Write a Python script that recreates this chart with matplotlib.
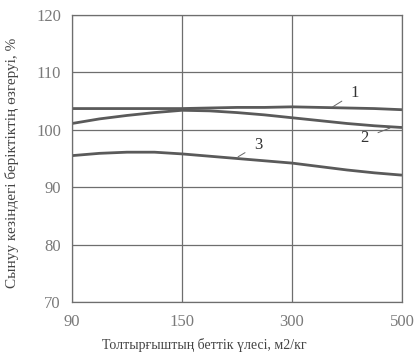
import matplotlib
matplotlib.use("Agg")
import matplotlib.pyplot as plt

# Data (x positions are evenly spaced categories)
x_labels = ["90", "150", "300", "500"]
pos = [0, 0.25, 0.5, 0.75, 1, 1.25, 1.5, 1.75, 2, 2.25, 2.5, 2.75, 3]
curve1 = [103.7, 103.7, 103.7, 103.7, 103.7, 103.8, 103.9, 103.9, 104.0, 103.9, 103.8, 103.7, 103.5]
curve2 = [101.1, 101.9, 102.5, 103.0, 103.4, 103.3, 103.0, 102.6, 102.1, 101.6, 101.1, 100.7, 100.4]
curve3 = [95.5, 95.9, 96.1, 96.1, 95.8, 95.4, 95.0, 94.6, 94.2, 93.6, 93.0, 92.5, 92.1]
y_ticks = [70, 80, 90, 100, 110, 120]

plt.rcParams["font.family"] = ["Liberation Serif", "DejaVu Serif"]

fig = plt.figure(figsize=(4.16, 3.52), dpi=100)
ax = fig.add_axes([72 / 416, 1 - 302 / 352, 330 / 416, 287 / 352])

line_color = "#5a5a5a"
for ys in (curve1, curve2, curve3):
    ax.plot(pos, ys, color=line_color, linewidth=2.0, solid_capstyle="butt")

ax.set_xlim(0, 3)
ax.set_ylim(70, 120)
ax.set_xticks(range(len(x_labels)))
ax.set_xticklabels(x_labels)
ax.set_yticks(y_ticks)
ax.grid(True, color="#6e6e6e", linewidth=0.9)
ax.set_axisbelow(True)
for s in ax.spines.values():
    s.set_color("#6e6e6e")
    s.set_linewidth(0.9)
ax.tick_params(length=0, colors="#7a7a7a", labelsize=12)
ax.tick_params(axis="y", pad=8)
ax.tick_params(axis="x", pad=9)

# curve labels with leader lines
leader = dict(arrowstyle="-", color="#666666", lw=0.7, shrinkA=5, shrinkB=0)
ax.annotate("1", xy=(2.37, 104.0), xytext=(2.57, 106.4), fontsize=12, color="#333333",
            ha="center", va="center", arrowprops=leader)
ax.annotate("2", xy=(2.89, 100.3), xytext=(2.66, 98.6), fontsize=12, color="#333333",
            ha="center", va="center", arrowprops=leader)
ax.annotate("3", xy=(1.51, 95.3), xytext=(1.69, 97.35), fontsize=12, color="#333333",
            ha="center", va="center", arrowprops=leader)

fig.text(204 / 416, 1 - 345 / 352, "Толтырғыштың беттік үлесі, м2/кг", ha="center", va="center",
         fontsize=10, color="#444444")
fig.text(12 / 416, 1 - 163 / 352, "Сынуу кезіндегі беріктіктің өзгеруі, %", ha="center", va="center",
         rotation=90, fontsize=11, color="#444444")

fig.savefig("out.png", dpi=100)
